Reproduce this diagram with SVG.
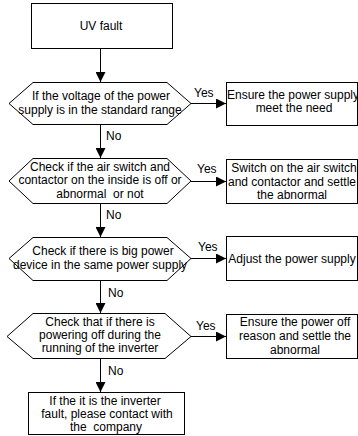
<svg xmlns="http://www.w3.org/2000/svg" width="358" height="436" viewBox="0 0 358 436">
<style>
.s{fill:#fff;stroke:#000;stroke-width:1}
.t{font-family:"Liberation Sans",Arial,sans-serif;font-size:12px;fill:#000;text-anchor:middle;white-space:pre}
.l{font-family:"Liberation Sans",Arial,sans-serif;font-size:12px;fill:#000}
.c{stroke:#000;stroke-width:1;fill:none}
</style>
<defs>
<marker id="a" markerUnits="userSpaceOnUse" markerWidth="10" markerHeight="10" refX="10" refY="5" orient="auto">
<path d="M0,0 L10,5 L0,10 z" fill="#000"/>
</marker>
</defs>
<rect width="358" height="436" fill="#fff"/>
<g id="connectors">
<line class="c" x1="100.5" y1="49" x2="100.5" y2="82" marker-end="url(#a)"/>
<line class="c" x1="100.5" y1="124" x2="100.5" y2="158" marker-end="url(#a)"/>
<line class="c" x1="100.5" y1="203" x2="100.5" y2="237" marker-end="url(#a)"/>
<line class="c" x1="100.5" y1="280" x2="100.5" y2="313" marker-end="url(#a)"/>
<line class="c" x1="100.5" y1="358" x2="100.5" y2="392" marker-end="url(#a)"/>
<line class="c" x1="191" y1="103.5" x2="226" y2="103.5" marker-end="url(#a)"/>
<line class="c" x1="191" y1="181.5" x2="226" y2="181.5" marker-end="url(#a)"/>
<line class="c" x1="191" y1="258.5" x2="226" y2="258.5" marker-end="url(#a)"/>
<line class="c" x1="191" y1="336.5" x2="226" y2="336.5" marker-end="url(#a)"/>
<text class="l" x="194" y="97">Yes</text>
<text class="l" x="197" y="173">Yes</text>
<text class="l" x="198" y="251">Yes</text>
<text class="l" x="196" y="330">Yes</text>
<text class="l" x="106" y="140">No</text>
<text class="l" x="106" y="219">No</text>
<text class="l" x="108" y="297">No</text>
<text class="l" x="108" y="375">No</text>
</g>
<g id="start">
<rect class="s" x="31.5" y="3.5" width="141" height="45"/>
<text class="t" x="101" y="30">UV fault</text>
</g>
<g id="d1">
<polygon class="s" points="9,103.5 33,82.5 167,82.5 191,103.5 167,124.5 33,124.5"/>
<text class="t" x="101" y="100">If the voltage of the power</text>
<text class="t" x="100" y="114">supply is in the standard range</text>
</g>
<g id="r1">
<rect class="s" x="226.5" y="82.5" width="131" height="43"/>
<text class="t" x="293" y="99">Ensure the power supply</text>
<text class="t" x="294" y="112">meet the need</text>
</g>
<g id="d2">
<polygon class="s" points="9,181 33,158.5 167,158.5 191,181 167,203.5 33,203.5"/>
<text class="t" x="100" y="171">Check if the air switch and</text>
<text class="t" x="100" y="184">contactor on the inside is off or</text>
<text class="t" x="100" y="198" xml:space="preserve">abnormal  or not</text>
</g>
<g id="r2">
<rect class="s" x="226.5" y="159.5" width="131" height="44"/>
<text class="t" x="294" y="172">Switch on the air switch</text>
<text class="t" x="292" y="186">and contactor and settle</text>
<text class="t" x="292" y="199">the abnormal</text>
</g>
<g id="d3">
<polygon class="s" points="9,258.5 33,237.5 167,237.5 191,258.5 167,280.5 33,280.5"/>
<text class="t" x="103" y="255">Check if there is big power</text>
<text class="t" x="100" y="269">device in the same power supply</text>
</g>
<g id="r3">
<rect class="s" x="226.5" y="236.5" width="131" height="44"/>
<text class="t" x="292" y="263">Adjust the power supply</text>
</g>
<g id="d4">
<polygon class="s" points="7,336.5 33,313.5 165,313.5 191,336.5 165,358.5 33,358.5"/>
<text class="t" x="100" y="326">Check that if there is</text>
<text class="t" x="100" y="339">powering off during the</text>
<text class="t" x="100" y="352">running of the inverter</text>
</g>
<g id="r4">
<rect class="s" x="226.5" y="314.5" width="131" height="44"/>
<text class="t" x="295" y="326">Ensure the power off</text>
<text class="t" x="295" y="340">reason and settle the</text>
<text class="t" x="295" y="354">abnormal</text>
</g>
<g id="end">
<rect class="s" x="28.5" y="392.5" width="156" height="42"/>
<text class="t" x="105" y="405">If the it is the inverter</text>
<text class="t" x="107" y="418">fault, please contact with</text>
<text class="t" x="106" y="431" xml:space="preserve">the  company</text>
</g>
</svg>
